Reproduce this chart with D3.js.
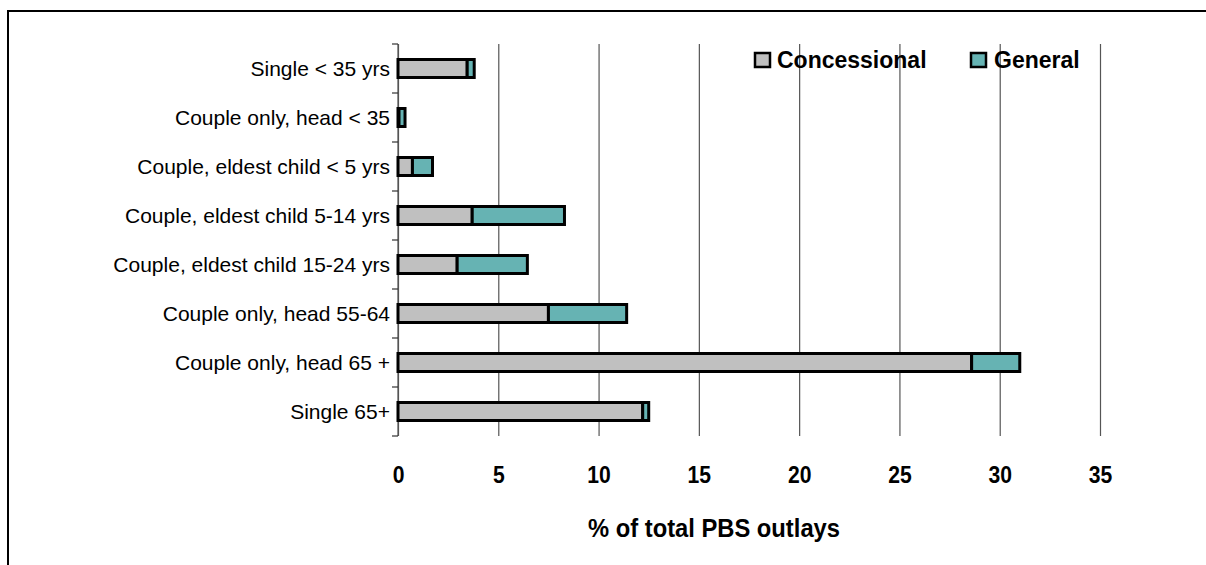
<!DOCTYPE html>
<html>
<head>
<meta charset="utf-8">
<script src="https://cdn.jsdelivr.net/npm/d3@7"></script>
<style>
  body { margin: 0; background: #fff; }
  svg { display: block; font-family: "Liberation Sans", Arial, sans-serif; }
</style>
</head>
<body>
<div id="graf"></div>
<script>
// Datos
const categorias = [
  "Single < 35 yrs",
  "Couple only, head < 35",
  "Couple, eldest child < 5 yrs",
  "Couple, eldest child 5-14 yrs",
  "Couple, eldest child 15-24 yrs",
  "Couple only, head 55-64",
  "Couple only, head 65 +",
  "Single 65+"
]
const concesional = [3.45, 0.05, 0.72, 3.7, 2.95, 7.5, 28.6, 12.2]
const general = [0.35, 0.3, 1.0, 4.6, 3.5, 3.9, 2.4, 0.3]
const series = ["Concessional", "General"]
const ticksX = [0, 5, 10, 15, 20, 25, 30, 35]

const draw = () => {
  const anchoTotal = 1206
  const altoTotal = 565
  const margins = { top: 44, right: 106, bottom: 129, left: 398 }
  const ancho = anchoTotal - margins.left - margins.right
  const alto = altoTotal - margins.top - margins.bottom

  const color = d3.scaleOrdinal().domain(series).range(["#c0c0c0", "#66b3b3"])

  const x = d3.scaleLinear().domain([0, 35]).range([0, ancho])
  const y = d3.scaleBand().domain(categorias).range([0, alto]).paddingInner(0)

  const svg = d3.select("#graf")
    .append("svg")
    .attr("width", anchoTotal)
    .attr("height", altoTotal)

  // Marco
  svg.append("rect")
    .attr("x", 8)
    .attr("y", 11)
    .attr("width", 1400)
    .attr("height", 800)
    .attr("fill", "none")
    .attr("stroke", "#000")
    .attr("stroke-width", 2)

  const chart = svg.append("g")
    .attr("transform", `translate(${margins.left}, ${margins.top})`)

  // Eje X con rejilla
  const xAxis = d3.axisBottom(x)
    .tickValues(ticksX)
    .tickSize(-alto)
    .tickPadding(30)
    .tickFormat(d3.format("d"))

  const xAxisGroup = chart.append("g")
    .attr("transform", `translate(0, ${alto})`)
    .call(xAxis)
  xAxisGroup.select(".domain").remove()
  xAxisGroup.selectAll(".tick line")
    .attr("stroke", "#555")
    .attr("stroke-width", 1.2)
  xAxisGroup.selectAll(".tick text")
    .attr("fill", "#000")
    .attr("transform", "scale(0.88, 1)")
    .style("font-size", "24px")
    .style("font-weight", "bold")

  xAxisGroup.append("text")
    .attr("x", x(17.5) - 35)
    .attr("y", 101)
    .attr("fill", "#000")
    .attr("textLength", 252)
    .attr("lengthAdjust", "spacingAndGlyphs")
    .style("text-anchor", "middle")
    .style("font-size", "25px")
    .style("font-weight", "bold")
    .text("% of total PBS outlays")

  // Eje Y
  const yAxisGroup = chart.append("g")
  yAxisGroup.append("line")
    .attr("x1", 0).attr("x2", 0)
    .attr("y1", 0).attr("y2", alto)
    .attr("stroke", "#555")
    .attr("stroke-width", 1.2)

  const bordes = categorias.map((c) => y(c)).concat([alto])
  yAxisGroup.selectAll("line.tk")
    .data(bordes)
    .join("line")
    .classed("tk", true)
    .attr("x1", -6).attr("x2", 0)
    .attr("y1", (d) => d).attr("y2", (d) => d)
    .attr("stroke", "#333")
    .attr("stroke-width", 1.2)

  yAxisGroup.selectAll("text")
    .data(categorias)
    .join("text")
    .attr("x", -8)
    .attr("y", (d) => y(d) + y.bandwidth() / 2)
    .attr("dy", "0.35em")
    .style("text-anchor", "end")
    .style("font-size", "21px")
    .attr("fill", "#000")
    .text((d) => d)

  // Barras apiladas
  const dataset = categorias.map((c, i) => ({ cat: c, Concessional: concesional[i], General: general[i] }))
  const stack = d3.stack().keys(series)(dataset)
  const altoBarra = 18

  chart.append("g")
    .selectAll("g")
    .data(stack)
    .join("g")
    .attr("fill", (d) => color(d.key))
    .selectAll("rect")
    .data((d) => d)
    .join("rect")
    .attr("x", (d) => x(d[0]))
    .attr("y", (d) => y(d.data.cat) + (y.bandwidth() - altoBarra) / 2)
    .attr("width", (d) => x(d[1]) - x(d[0]))
    .attr("height", altoBarra)
    .attr("stroke", "#000")
    .attr("stroke-width", 3)

  // Leyenda
  const leyenda = svg.append("g")
  const posLeyenda = [{ sx: 755, tx: 777 }, { sx: 971, tx: 994 }]
  series.forEach((s, i) => {
    leyenda.append("rect")
      .attr("x", posLeyenda[i].sx)
      .attr("y", 53)
      .attr("width", 15)
      .attr("height", 14)
      .attr("fill", color(s))
      .attr("stroke", "#000")
      .attr("stroke-width", 2.5)
    leyenda.append("text")
      .attr("x", posLeyenda[i].tx)
      .attr("y", 60)
      .attr("dy", "0.35em")
      .style("font-size", "23px")
      .style("font-weight", "bold")
      .attr("fill", "#000")
      .text(s)
  })
}

draw()
</script>
</body>
</html>
